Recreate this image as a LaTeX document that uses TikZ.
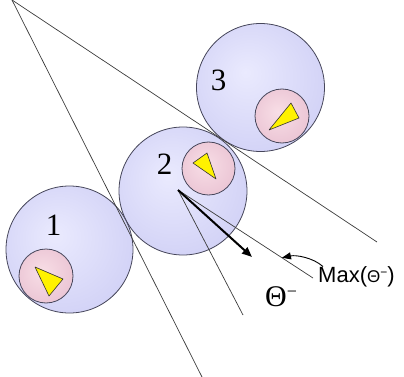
\documentclass[tikz,border=0pt]{standalone}
\usepackage{fontspec}
\setmainfont{Liberation Serif}
\newfontfamily\labelsans{Liberation Sans}
\usetikzlibrary{arrows.meta}
\definecolor{bubinner}{RGB}{234, 234, 254}
\definecolor{bubouter}{RGB}{192, 192, 240}
\definecolor{coreinner}{RGB}{248, 222, 230}
\definecolor{coreouter}{RGB}{224, 176, 198}
\definecolor{rimgray}{RGB}{70, 70, 90}
\definecolor{raygray}{RGB}{60, 60, 60}
\pgfdeclareradialshading{bubshade}{\pgfpoint{-6bp}{6bp}}{color(0bp)=(bubinner); color(52bp)=(bubouter)}
\pgfdeclareradialshading{coreshade}{\pgfpoint{-4bp}{4bp}}{color(0bp)=(coreinner); color(52bp)=(coreouter)}

\begin{document}
\begin{tikzpicture}[
    x=1pt, y=-1pt,
    bubble/.style={
      circle, draw=rimgray, line width=0.8pt, inner sep=0pt,
      minimum size=#1, shading=bubshade
    },
    core/.style={
      circle, draw=rimgray, line width=0.8pt, inner sep=0pt,
      minimum size=#1, shading=coreshade
    },
    wedge/.style={fill=yellow, draw=black!80, line width=0.6pt, line join=round},
    digit/.style={font=\fontsize{31}{31}\selectfont},
    ray/.style={raygray, line width=0.7pt},
    heading/.style={-{Triangle[length=10pt, width=8pt]}, line width=2pt, black},
]
    \useasboundingbox (0,0) rectangle (404,377);

    % Bubbles
    \node[bubble=127pt] (b1) at (69.5,249.5) {};
    \node[bubble=128pt] (b2) at (183,191) {};
    \node[bubble=128pt] (b3) at (260.5,87.5) {};

    % Cores
    \node[core=54pt] (k1) at (46,276) {};
    \node[core=53pt] (k2) at (208.5,168.5) {};
    \node[core=54pt] (k3) at (282,116) {};

    \draw[wedge] (35,267) -- (63,279) -- (49,296) -- cycle;
    \draw[wedge] (193,163) -- (207,153) -- (216,179) -- cycle;
    \draw[wedge] (269,130) -- (291,103) -- (299,118) -- cycle;

    \node[digit] (n1) at (53.5,225) {1};
    \node[digit] (n2) at (164.5,164) {2};
    \node[digit] (n3) at (218.5,80) {3};

    % Tangent lines
    \coordinate (apex) at (12,0);
    \coordinate (lowend) at (202,377);
    \coordinate (highend) at (377,242);
    \draw[ray] (apex) -- (lowend);
    \draw[ray] (apex) -- (highend);

    % Rays from bubble 2
    \coordinate (src) at (178,190);
    \coordinate (thetaend) at (243,315);
    \coordinate (maxend) at (313,278);
    \coordinate (headend) at (252,257);
    \draw[ray] (src) -- (thetaend);
    \draw[ray] (src) -- (maxend) coordinate[pos=0.77] (maxtip);
    \draw[heading] (src) -- (headend);

    % Labels
    \node[anchor=west, inner sep=0pt, font=\labelsans\fontsize{22}{22}\selectfont]
      (maxlbl) at (318,277) {Max({\fontsize{17}{17}\selectfont Θ}\raisebox{6pt}{\fontsize{12}{12}\selectfont −})};
    \node[inner sep=0pt, font=\fontsize{30}{30}\selectfont]
      (thlbl) at (281,297) {Θ\raisebox{9pt}{\fontsize{18}{18}\selectfont −}};

    \draw[-{Triangle[length=9pt, width=7pt]}, line width=0.9pt, black]
      ([xshift=5pt]maxlbl.north west) .. controls +(-10,-9) and +(14,-3) .. (maxtip);
\end{tikzpicture}
\end{document}
